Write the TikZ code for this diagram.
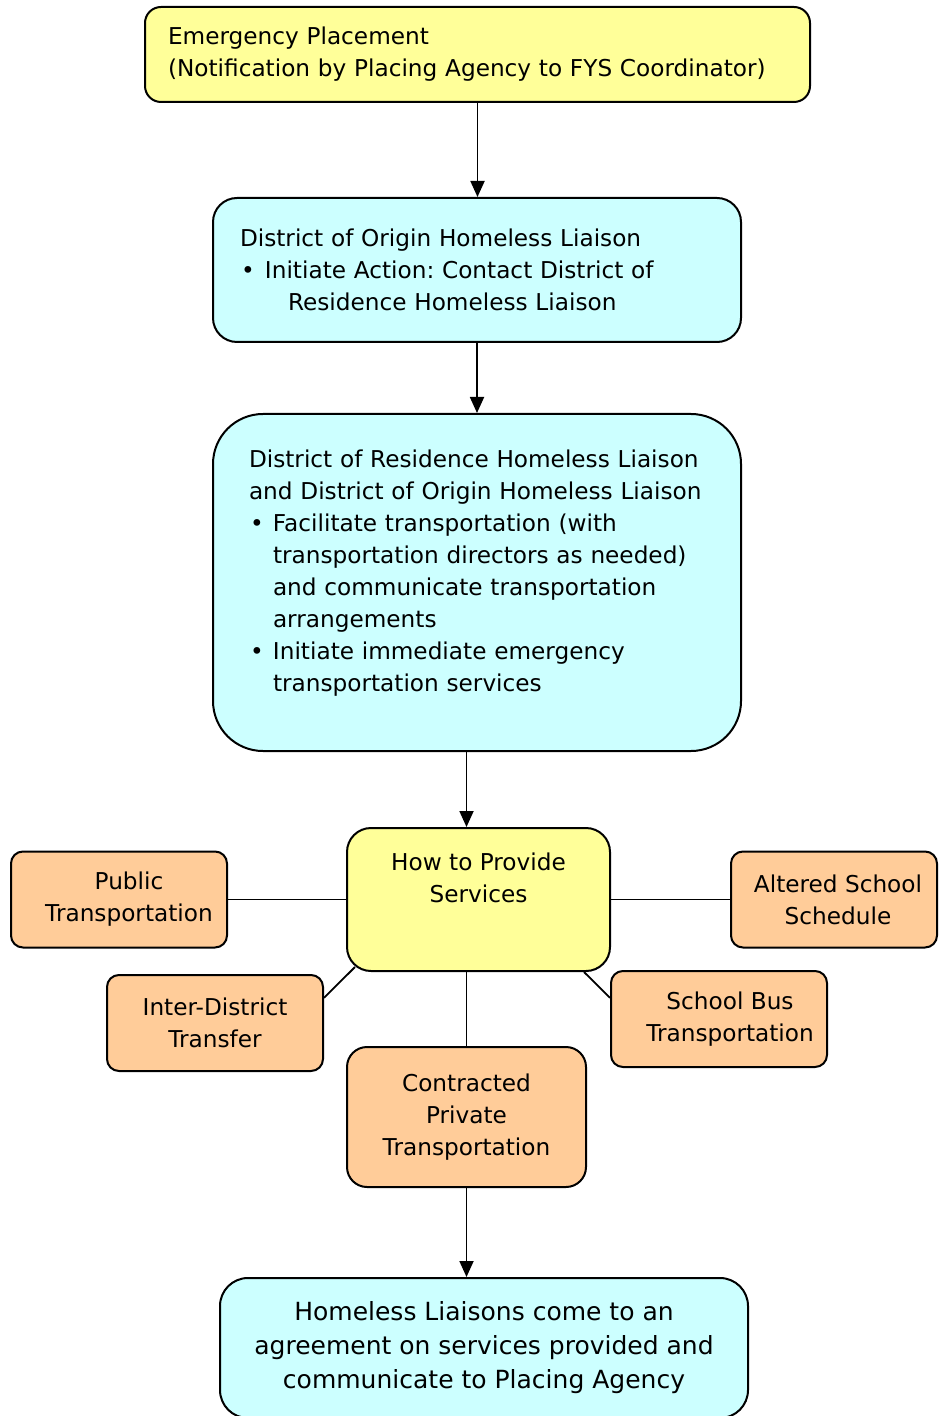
\documentclass[tikz,border=0pt]{standalone}
\usepackage{fontspec}
\setmainfont{DejaVu Sans}
\usepackage{xcolor}
\usepackage{tikz}
\usetikzlibrary{arrows.meta,positioning,calc}
\definecolor{placecolor}{RGB}{255,255,153}
\definecolor{liaisoncolor}{RGB}{204,255,255}
\definecolor{optioncolor}{RGB}{255,204,153}
\newcommand{\bul}[1]{\makebox[#1][l]{\textbullet}}
\frenchspacing

\begin{document}
\begin{tikzpicture}[
    x=0.5pt, y=-0.5pt,
    box/.style={rectangle, draw, line width=1pt, inner sep=0pt, font=\fontsize{11.6pt}{16pt}\selectfont},
    option/.style={box, fill=optioncolor, rounded corners=6pt, minimum width=108pt, minimum height=48pt, align=center},
    arrow/.style={-{Triangle[length=8pt,width=7pt]}, line width=0.9pt},
    link/.style={line width=0.9pt}
]
    \useasboundingbox (0,0) rectangle (938,1416);

    % Nodes
    \node[box, fill=placecolor, rounded corners=8pt, minimum width=332.5pt, minimum height=47.5pt, text width=309.5pt, align=left] (placement) at (477.5,54.5) {Emergency Placement\\(Notification by Placing Agency to FYS Coordinator)};
    \node[box, fill=liaisoncolor, rounded corners=12pt, minimum width=264pt, minimum height=72pt, text width=237pt, align=left] (origin) at (477,270) {District of Origin Homeless Liaison\\\hspace*{0.5pt}\bul{12pt}Initiate Action: Contact District of\\\hspace*{24pt}Residence Homeless Liaison};
    \node[box, fill=liaisoncolor, rounded corners=25pt, minimum width=264pt, minimum height=168.5pt, text width=228pt, align=left] (residence) at (477,582.5) {District of Residence Homeless Liaison\\and District of Origin Homeless Liaison\\\hspace*{0.5pt}\bul{11.5pt}Facilitate transportation (with\\\hspace*{12pt}transportation directors as needed)\\\hspace*{12pt}and communicate transportation\\\hspace*{12pt}arrangements\\\hspace*{0.5pt}\bul{11.5pt}Initiate immediate emergency\\\hspace*{12pt}transportation services\\[-4.5pt]\mbox{}};
    \node[box, fill=placecolor, rounded corners=12pt, minimum width=131.5pt, minimum height=71.5pt, align=center] (how) at (478.5,899.5) {How to Provide\\Services\\[5.5pt]\mbox{}};

    % Ways to provide services
    \node[option] (public) at (119,899.5) {\hspace*{10pt}Public\\\hspace*{10pt}Transportation};
    \node[option, minimum width=103pt] (altered) at (834,899.5) {\hspace*{4pt}Altered School\\\hspace*{4pt}Schedule};
    \node[option] (inter) at (215,1023) {Inter-District\\Transfer};
    \node[option] (bus) at (719,1019) {\hspace*{11pt}School Bus\\\hspace*{11pt}Transportation};
    \node[option, rounded corners=10pt, minimum width=119.5pt, minimum height=70pt] (contracted) at (466.5,1117) {Contracted\\Private\\Transportation};

    \node[box, fill=liaisoncolor, rounded corners=14pt, minimum width=264pt, minimum height=70pt, align=center, font=\fontsize{12.5pt}{17pt}\selectfont] (agreement) at (484,1348) {Homeless Liaisons come to an\\agreement on services provided and\\communicate to Placing Agency};

    % Arrows
    \draw[arrow] (placement.south) -- (placement.south |- origin.north);
    \draw[arrow] (origin.south) -- (origin.south |- residence.north);
    \draw[arrow] (residence.south -| contracted) -- (how.north -| contracted);
    \draw[arrow] (contracted) -- (contracted |- agreement.north);

    % Links
    \draw[link] (how) -- (public);
    \draw[link] (how) -- (altered);
    \draw[link] ($(how.south west)+(9,-5)$) -- (inter.13);
    \draw[link] ($(how.south east)+(-27,0)$) -- (bus.169);
    \draw[link] (how.south -| contracted) -- (contracted);
\end{tikzpicture}
\end{document}
